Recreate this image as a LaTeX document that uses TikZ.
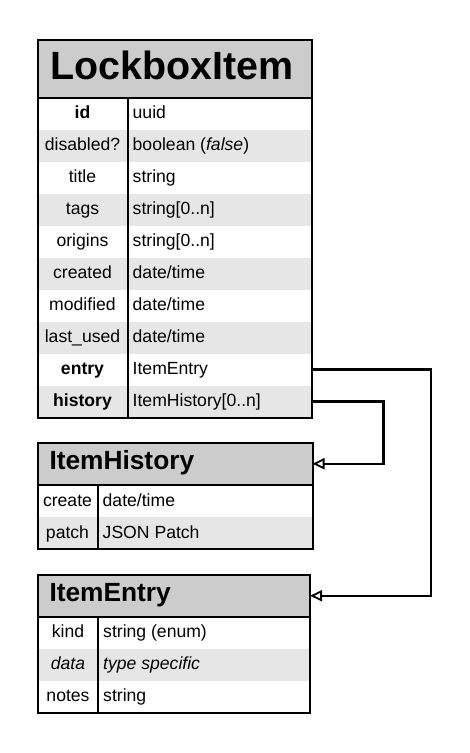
\documentclass[tikz,border=0pt]{standalone}
\usepackage{fontspec}
\setmainfont{Liberation Sans}
\usetikzlibrary{arrows.meta}
\definecolor{titlegray}{HTML}{CCCCCC}
\definecolor{rowgray}{HTML}{E6E6E6}
\begin{document}
\begin{tikzpicture}[x=1pt,y=-1pt,
  cell/.style={inner sep=0pt, outer sep=0pt, anchor=north west, draw=none},
  titlecell/.style={cell, fill=titlegray},
  graycell/.style={cell, fill=rowgray},
  whitecell/.style={cell, fill=white},
  frame/.style={draw=black, line width=2pt},
  keytxt/.style={inner sep=0pt, anchor=base, font=\fontsize{17.6}{20}\selectfont},
  valtxt/.style={inner sep=0pt, anchor=base west, font=\fontsize{17.6}{20}\selectfont},
  bigtitle/.style={inner sep=0pt, anchor=base west, font=\fontsize{39.4}{44}\selectfont\bfseries},
  subtitle/.style={inner sep=0pt, anchor=base west, font=\fontsize{26.3}{30}\selectfont\bfseries},
  conn/.style={draw=black, line width=2.2pt, -{Triangle[open, length=12pt, width=11pt, line width=1.8pt]}}
]
\useasboundingbox (0,0) rectangle (470,753);
\fill[white] (0,0) rectangle (470,753);

% ---------------- LockboxItem ----------------
\node[titlecell, minimum width=274pt, minimum height=58pt] (lb) at (37.5,39.5) {};
\node[bigtitle] (lbt) at (50.5,79.3) {LockboxItem};
\foreach \i/\st in {0/whitecell,1/graycell,2/whitecell,3/graycell,4/whitecell,5/graycell,6/whitecell,7/graycell,8/whitecell,9/graycell}{
  \node[\st, minimum width=274pt, minimum height=32pt] (lb-r\i) at (37.5,97.5+32*\i) {};
}
\node[keytxt] (lbk0) at (82.5,118.5) {\bfseries id};
\node[valtxt] (lbv0) at (132.5,118.5) {uuid};
\node[keytxt] (lbk1) at (82.5,150.5) {disabled?};
\node[valtxt] (lbv1) at (132.5,150.5) {boolean (\textit{false})};
\node[keytxt] (lbk2) at (82.5,182.5) {title};
\node[valtxt] (lbv2) at (132.5,182.5) {string};
\node[keytxt] (lbk3) at (82.5,214.5) {tags};
\node[valtxt] (lbv3) at (132.5,214.5) {string[0..n]};
\node[keytxt] (lbk4) at (82.5,246.5) {origins};
\node[valtxt] (lbv4) at (132.5,246.5) {string[0..n]};
\node[keytxt] (lbk5) at (82.5,278.5) {created};
\node[valtxt] (lbv5) at (132.5,278.5) {date/time};
\node[keytxt] (lbk6) at (82.5,310.5) {modified};
\node[valtxt] (lbv6) at (132.5,310.5) {date/time};
\node[keytxt] (lbk7) at (82.5,342.5) {last\_used};
\node[valtxt] (lbv7) at (132.5,342.5) {date/time};
\node[keytxt] (lbk8) at (82.5,374.5) {\bfseries entry};
\node[valtxt] (lbv8) at (132.5,374.5) {ItemEntry};
\node[keytxt] (lbk9) at (82.5,406.5) {\bfseries history};
\node[valtxt] (lbv9) at (132.5,406.5) {ItemHistory[0..n]};
\draw[frame] (37.5,39.5) rectangle (311.5,417.5);
\draw[frame] (37.5,97.5) -- (311.5,97.5);
\draw[frame] (127.5,97.5) -- (127.5,417.5);

% ---------------- ItemHistory ----------------
\node[titlecell, minimum width=275pt, minimum height=42.5pt] (ih) at (37.5,442.5) {};
\node[subtitle] (iht) at (49.3,469.3) {ItemHistory};
\node[whitecell, minimum width=275pt, minimum height=32pt] (ih-r0) at (37.5,485) {};
\node[graycell, minimum width=275pt, minimum height=32pt] (ih-r1) at (37.5,517) {};
\node[keytxt] (ihk0) at (67.5,506) {create};
\node[valtxt] (ihv0) at (102.5,506) {date/time};
\node[keytxt] (ihk1) at (67.5,538) {patch};
\node[valtxt] (ihv1) at (102.5,538) {JSON Patch};
\draw[frame] (37.5,442.5) rectangle (312.5,549);
\draw[frame] (37.5,485) -- (312.5,485);
\draw[frame] (97.5,485) -- (97.5,549);

% ---------------- ItemEntry ----------------
\node[titlecell, minimum width=272.5pt, minimum height=41.5pt] (ie) at (37.5,575) {};
\node[subtitle] (iet) at (49.3,601.3) {ItemEntry};
\node[whitecell, minimum width=272.5pt, minimum height=32pt] (ie-r0) at (37.5,616.5) {};
\node[graycell, minimum width=272.5pt, minimum height=32pt] (ie-r1) at (37.5,648.5) {};
\node[whitecell, minimum width=272.5pt, minimum height=32pt] (ie-r2) at (37.5,680.5) {};
\node[keytxt] (iek0) at (68,637.5) {kind};
\node[valtxt] (iev0) at (103,637.5) {string (enum)};
\node[keytxt] (iek1) at (68,669.5) {\itshape data};
\node[valtxt] (iev1) at (103,669.5) {\itshape type specific};
\node[keytxt] (iek2) at (68,701.5) {notes};
\node[valtxt] (iev2) at (103,701.5) {string};
\draw[frame] (37.5,575) rectangle (310,712.5);
\draw[frame] (37.5,616.5) -- (310,616.5);
\draw[frame] (98,616.5) -- (98,712.5);

% ---------------- connectors ----------------
\coordinate (busE) at (431,0);
\coordinate (busH) at (383.5,0);
\draw[conn] (lb-r8.east) -- (lb-r8.east -| busE) |- (ie.east);
\draw[conn] (lb-r9.east) -- (lb-r9.east -| busH) |- (ih.east);
\end{tikzpicture}
\end{document}
